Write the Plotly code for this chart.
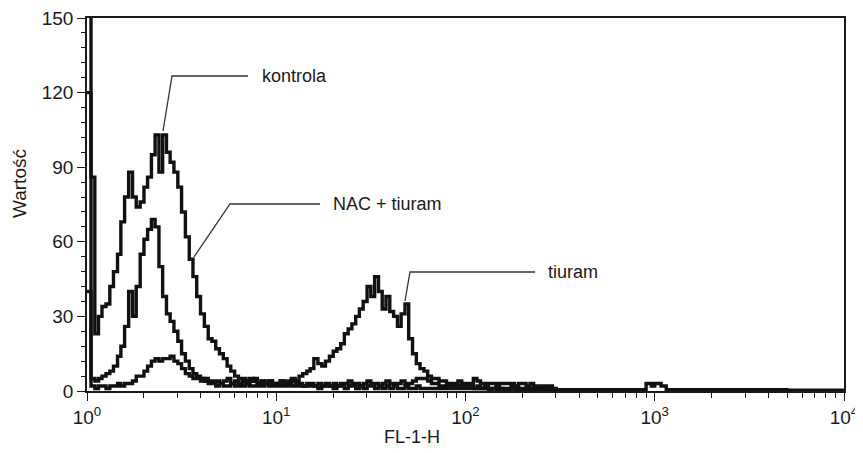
import plotly.graph_objects as go

# FL-1-H channel positions (log-spaced histogram bins)
fl1_channels = [
    1.00, 1.05, 1.10, 1.15, 1.20, 1.26, 1.32, 1.38, 1.45, 1.51,
    1.58, 1.66, 1.74, 1.82, 1.91, 2.00, 2.09, 2.19, 2.29, 2.40,
    2.51, 2.63, 2.75, 2.88, 3.02, 3.16, 3.31, 3.47, 3.63, 3.80,
    3.98, 4.17, 4.37, 4.57, 4.79, 5.01, 5.25, 5.50, 5.75, 6.03,
    6.31, 6.61, 6.92, 7.24, 7.59, 7.94, 8.32, 8.71, 9.12, 9.55,
    10.0, 10.5, 11.0, 11.5, 12.0, 12.6, 13.2, 13.8, 14.5, 15.1,
    15.8, 16.6, 17.4, 18.2, 19.1, 20.0, 20.9, 21.9, 22.9, 24.0,
    25.1, 26.3, 27.5, 28.8, 30.2, 31.6, 33.1, 34.7, 36.3, 38.0,
    39.8, 41.7, 43.7, 45.7, 47.9, 50.1, 52.5, 55.0, 57.5, 60.3,
    63.1, 66.1, 69.2, 72.4, 75.9, 79.4, 83.2, 87.1, 91.2, 95.5,
    100, 105, 110, 115, 120, 126, 132, 138, 145, 151,
    158, 166, 174, 182, 191, 200, 209, 219, 229, 240,
    251, 263, 275, 288, 302,
    350, 600, 850, 900, 960, 1000, 1080, 1150, 2000, 5000, 10000,
]

kontrola = [
    160, 86, 23, 30, 34, 35, 42, 48, 55, 68,
    78, 88, 78, 74, 76, 82, 86, 95, 103, 88,
    103, 96, 92, 88, 82, 72, 62, 53, 46, 38,
    31, 26, 21, 20, 17, 15, 13, 10, 8, 6,
    5, 5, 4, 5, 4, 3, 4, 3, 4, 3,
    3, 4, 3, 3, 4, 3, 3, 2, 3, 3,
    2, 3, 2, 3, 2, 3, 2, 3, 3, 4,
    3, 3, 2, 3, 4, 3, 3, 2, 3, 4,
    3, 3, 3, 4, 3, 3, 4, 5, 5, 5,
    4, 3, 3, 2, 2, 2, 2, 2, 2, 2,
    2, 2, 1, 2, 1, 2, 1, 1, 2, 1,
    1, 1, 2, 1, 1, 1, 1, 1, 1, 1,
    1, 1, 1, 0.5, 0.5,
]

nac_tiuram = [
    120, 5, 4, 5, 6, 7, 8, 10, 14, 18,
    26, 40, 30, 42, 55, 61, 65, 69, 66, 50,
    38, 31, 28, 24, 20, 15, 12, 9, 7, 6,
    5, 4, 3, 3, 2, 3, 2, 2, 3, 2,
    2, 2, 3, 2, 2, 2, 2, 3, 2, 2,
    2, 2, 2, 3, 2, 2, 2, 2, 2, 2,
    2, 1, 2, 2, 2, 1, 2, 2, 1, 2,
    2, 1, 2, 1, 2, 2, 1, 2, 1, 2,
    1, 2, 1, 1, 2, 1, 1, 2, 1, 1,
    1, 1, 1, 1, 1, 1, 1, 1, 1, 1,
    1, 1, 1, 1, 1, 1, 0.5, 1, 0.5, 1,
    0.5, 0.5, 1, 0.5, 0.5, 0.5, 0.5, 0.5, 0.5, 0.5,
    0.5, 0.5, 0.5, 0.5, 0.5,
]

tiuram = [
    40, 2, 1, 2, 2, 1, 2, 2, 3, 2,
    3, 3, 4, 6, 6, 8, 10, 12, 13, 12,
    13, 13, 14, 12, 11, 9, 7, 6, 5, 5,
    4, 5, 4, 4, 4, 3, 4, 5, 3, 4,
    3, 4, 3, 4, 5, 3, 4, 3, 4, 3,
    3, 4, 3, 4, 5, 4, 6, 7, 8, 9,
    13, 11, 10, 12, 14, 16, 17, 19, 23, 25,
    27, 30, 33, 36, 42, 38, 46, 40, 33, 38,
    32, 30, 26, 31, 35, 21, 15, 11, 9, 8,
    6, 5, 5, 4, 4, 3, 3, 3, 4, 3,
    3, 3, 5, 4, 3, 3, 3, 3, 3, 3,
    3, 3, 3, 2, 3, 3, 2, 3, 2, 2,
    2, 2, 2, 1, 0.5,
    0.5, 0.5, 0.5, 3, 2, 3, 2, 0.5, 0.5, 0.3, 0.3,
]

series_names = ["kontrola", "NAC + tiuram", "tiuram"]
series_values = [kontrola, nac_tiuram, tiuram]

x_tick_vals = [1, 10, 100, 1000, 10000]
x_tick_text = ["10<sup>0</sup>", "10<sup>1</sup>", "10<sup>2</sup>", "10<sup>3</sup>", "10<sup>4</sup>"]
x_minor_vals = [m * v for v in x_tick_vals[:-1] for m in range(2, 10)]
y_tick_vals = [0, 30, 60, 90, 120, 150]
x_title = "FL-1-H"
y_title = "Wartość"

FONT = "Liberation Sans, Arial, sans-serif"
INK = "#1a1a1a"
FS = 18
TFS = 19

fig = go.Figure()
for name, vals in zip(series_names, series_values):
    fig.add_trace(go.Scatter(
        x=fl1_channels[:len(vals)], y=vals, mode="lines", name=name,
        line=dict(shape="hv", color="#111111", width=3.4),
        showlegend=False,
    ))

# page body has an 8px default margin; figure is sized to fill the rest
OFF = 8
W, H = 863 - OFF, 453 - OFF
L, T = 87 - OFF, 18 - OFF
pw, ph = 757, 373
R, B = W - L - pw, H - T - ph


def px(xp):  # page pixel -> paper x
    return (xp - OFF - L) / pw


def py(yp):  # page pixel -> paper y
    return 1 - (yp - OFF - T) / ph


leaders = [
    # (tip, elbow, end, text x, label)
    ((163, 131), (172, 76), (248, 76), 260, "kontrola"),
    ((194, 257), (230, 204), (320, 204), 331, "NAC + tiuram"),
    ((405, 301), (410, 272), (535, 272), 546, "tiuram"),
]
shapes = []
annotations = []
for tip, elbow, end, tx, label in leaders:
    path = "M {},{} L {},{} L {},{}".format(
        px(tip[0]), py(tip[1]), px(elbow[0]), py(elbow[1]), px(end[0]), py(end[1]))
    shapes.append(dict(type="path", xref="paper", yref="paper", path=path,
                       line=dict(color="#333333", width=1.3)))
    annotations.append(dict(xref="paper", yref="paper", x=px(tx), y=py(end[1]),
                            xanchor="left", yanchor="middle", text=label,
                            showarrow=False, font=dict(family=FONT, size=FS, color=INK)))

annotations.append(dict(xref="paper", yref="paper", x=px(412), y=py(437),
                        xanchor="center", yanchor="middle", text=x_title,
                        showarrow=False, font=dict(family=FONT, size=FS, color=INK)))
annotations.append(dict(xref="paper", yref="paper", x=px(19), y=py(184),
                        xanchor="center", yanchor="middle", text=y_title, textangle=-90,
                        showarrow=False, font=dict(family=FONT, size=19, color=INK)))

fig.update_layout(
    width=W, height=H,
    margin=dict(l=L, r=R, t=T, b=B, autoexpand=False),
    paper_bgcolor="white", plot_bgcolor="white",
    font=dict(family=FONT, size=FS, color=INK),
    shapes=shapes, annotations=annotations,
    xaxis=dict(
        type="log", range=[0, 4], automargin=False,
        tickmode="array", tickvals=x_tick_vals, ticktext=x_tick_text,
        ticks="outside", ticklen=8, tickwidth=1, tickcolor=INK,
        ticklabeloverflow="allow",
        minor=dict(tickmode="array", tickvals=x_minor_vals, ticks="outside",
                   ticklen=5, tickwidth=1, tickcolor=INK),
        showline=True, linecolor=INK, linewidth=1.5, mirror=True,
        showgrid=False, zeroline=False,
        tickfont=dict(family=FONT, size=TFS, color=INK),
    ),
    yaxis=dict(
        range=[0, 150], automargin=False,
        tickmode="array", tickvals=y_tick_vals,
        ticks="outside", ticklen=8, tickwidth=1, tickcolor=INK,
        ticklabeloverflow="allow",
        minor=dict(tickmode="linear", tick0=0, dtick=6, ticks="outside",
                   ticklen=4, tickwidth=1, tickcolor=INK),
        showline=True, linecolor=INK, linewidth=1.5, mirror=True,
        showgrid=False, zeroline=False,
        tickfont=dict(family=FONT, size=TFS, color=INK),
    ),
)

fig.write_html("out.html")
